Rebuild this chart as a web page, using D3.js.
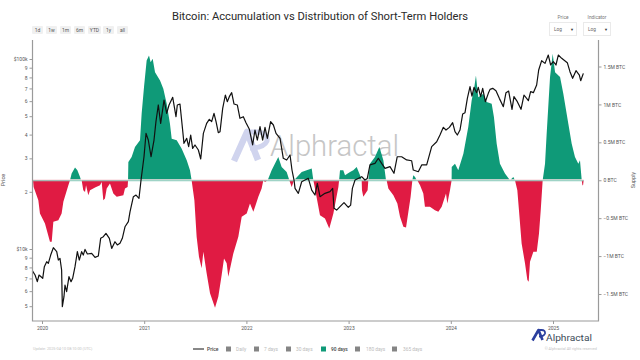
<!DOCTYPE html>
<html><head><meta charset="utf-8">
<script src="https://cdn.jsdelivr.net/npm/d3@7/dist/d3.min.js"></script>
<style>html,body{margin:0;padding:0;background:#fff}svg{display:block;font-family:Roboto,sans-serif}</style>
</head><body><svg id="c" width="640" height="360"></svg>
<script>
const priceYears=[2019.905,2019.932,2019.954,2019.971,2020.007,2020.023,2020.046,2020.062,2020.085,2020.111,2020.144,2020.160,2020.176,2020.192,2020.199,2020.215,2020.225,2020.241,2020.264,2020.284,2020.300,2020.323,2020.346,2020.365,2020.388,2020.404,2020.421,2020.444,2020.486,2020.519,2020.551,2020.574,2020.600,2020.626,2020.659,2020.682,2020.714,2020.737,2020.763,2020.786,2020.812,2020.845,2020.861,2020.894,2020.920,2020.949,2020.969,2020.998,
2021.018,2021.040,2021.067,2021.096,2021.115,2021.138,2021.161,2021.194,2021.220,2021.243,2021.279,2021.311,2021.324,2021.350,2021.376,2021.389,2021.416,2021.435,2021.455,2021.474,2021.497,2021.530,2021.553,2021.579,2021.611,2021.637,2021.660,2021.683,2021.703,2021.725,2021.742,2021.768,2021.794,2021.813,2021.833,2021.856,2021.879,2021.911,2021.937,2021.970,2021.996,2022.029,2022.061,2022.084,2022.107,2022.133,2022.159,2022.182,2022.205,2022.237,2022.264,2022.290,2022.329,2022.361,2022.394,2022.427,2022.446,2022.466,
2022.476,2022.508,2022.541,2022.573,2022.606,2022.639,2022.671,2022.694,2022.720,2022.769,2022.818,2022.844,2022.857,2022.883,2022.916,2022.955,2022.997,2023.020,2023.037,2023.063,2023.128,2023.160,2023.183,2023.209,2023.258,2023.291,2023.323,2023.356,2023.405,2023.444,2023.476,2023.519,2023.568,2023.617,2023.633,2023.682,2023.715,2023.764,2023.813,2023.862,
2023.894,2023.927,2023.953,2023.986,2024.018,2024.041,2024.064,2024.090,2024.116,2024.139,2024.162,2024.188,2024.207,2024.227,2024.253,2024.269,2024.292,2024.312,2024.338,2024.367,2024.384,2024.410,2024.442,2024.475,2024.514,2024.540,2024.566,2024.599,2024.618,2024.651,2024.687,2024.716,2024.759,2024.781,2024.808,2024.840,2024.860,2024.889,2024.922,2024.954,2024.977,2025.003,2025.029,2025.052,2025.085,2025.140,2025.166,2025.192,2025.225,2025.258,2025.271,2025.297];
const priceValues=[7690,7295,6730,7295,7010,8070,8570,8400,9290,10160,9680,8750,8930,7750,4970,5610,6460,5960,7150,6730,7010,8070,9680,8750,9680,9290,9950,9410,9480,9040,9180,11380,11610,12080,11380,10070,10920,10500,10710,11380,13090,13930,15700,18840,19230,18490,23070,30590,
40630,37460,30610,37460,46790,57280,45840,60840,51770,57280,62840,49710,57280,57960,42290,35990,38230,34560,39810,33870,35270,33190,29770,40630,45840,48130,46790,51770,46790,40950,41450,54990,64640,59620,63350,66500,57960,57280,48730,49710,46220,42630,35270,42290,37460,44040,37460,43680,38230,46790,44940,40630,38230,30010,29400,31240,26050,23070,
20840,19630,22600,23070,23540,20420,19230,22150,18840,19630,20040,20840,16370,16030,16710,17540,16560,17020,20840,23070,24020,23070,23530,27700,28220,30020,28220,26580,27130,25040,30590,30590,29420,29140,26040,25500,27700,27700,34560,36690,
39800,43680,42290,43680,46240,41450,39800,42290,51330,52170,62060,71490,63840,70910,66480,70910,63340,70070,59610,65940,69210,70070,68120,62060,56110,66480,67830,54340,63340,59610,54340,64640,60340,67290,66480,72970,87520,97980,94850,104940,92990,96790,92990,104940,100800,95630,85760,79110,86810,82350,76890,84050];
const supplyYears=[2019.905,2019.912,2019.918,2019.964,2019.980,2020.029,2020.078,2020.095,2020.111,2020.160,2020.192,2020.209,2020.258,2020.274,2020.290,2020.323,2020.346,2020.372,2020.382,2020.388,2020.404,2020.421,2020.431,2020.453,2020.470,2020.519,2020.568,2020.584,2020.600,2020.616,2020.633,2020.665,2020.698,2020.731,2020.796,2020.812,2020.838,2020.842,2020.845,2020.877,2020.910,2020.959,2020.975,2020.998,2021.024,2021.047,2021.063,2021.083,2021.106,2021.155,2021.187,2021.220,2021.252,2021.269,2021.318,2021.367,2021.416,2021.448,2021.464,2021.491,2021.513,2021.536,2021.562,2021.579,2021.611,2021.644,2021.693,2021.725,2021.758,2021.781,2021.807,2021.823,2021.872,2021.921,2021.954,2022.003,2022.035,2022.068,2022.117,2022.149,2022.166,2022.182,2022.208,2022.247,2022.312,2022.345,2022.394,2022.420,2022.443,2022.466,2022.541,2022.590,2022.639,2022.655,2022.671,2022.720,2022.769,2022.811,2022.851,2022.900,2022.907,2022.916,2022.948,2022.965,2023.014,2023.046,2023.079,2023.112,2023.128,2023.131,2023.144,2023.186,2023.193,2023.209,2023.258,2023.301,2023.340,2023.366,2023.372,2023.389,2023.438,2023.477,2023.503,2023.536,2023.562,2023.585,2023.607,2023.624,2023.633,2023.650,2023.666,2023.672,2023.699,2023.731,2023.747,2023.796,2023.845,2023.878,2023.911,2023.953,2023.966,2023.992,2024.008,2024.009,2024.041,2024.073,2024.123,2024.171,2024.204,2024.230,2024.246,2024.269,2024.318,2024.351,2024.400,2024.422,2024.449,2024.481,2024.530,2024.579,2024.612,2024.628,2024.651,2024.667,2024.693,2024.726,2024.749,2024.762,2024.775,2024.808,2024.841,2024.863,2024.880,2024.899,2024.922,2024.938,2024.971,2024.997,2025.020,2025.069,2025.101,2025.150,2025.183,2025.215,2025.248,2025.264,2025.281,2025.288,2025.294,2025.300];
const supplyValues=[50,0,-88,-263,-439,-570,-811,-811,-548,-526,-439,-285,-66,0,88,167,132,44,0,0,-132,-154,-66,-197,-132,-96,-66,-22,-263,-241,-110,-44,-175,-219,-197,-110,-88,0,241,307,439,526,877,1228,1579,1645,1557,1601,1425,1316,1206,1009,746,548,526,417,263,132,0,-263,-746,-1009,-1162,-943,-1228,-1491,-1680,-1535,-1250,-1031,-1096,-1272,-965,-746,-482,-439,-307,-417,-219,-110,0,-22,0,132,307,175,110,0,-88,0,110,132,154,0,-110,-461,-504,-636,-439,-88,0,132,132,66,110,132,175,66,0,-132,-219,-132,0,219,307,439,263,0,0,-110,-197,-307,-482,-614,-623,-417,-219,0,66,44,0,0,-66,-175,-351,-351,-395,-417,-351,-175,-307,-132,0,175,219,132,351,702,1053,1228,1382,1096,1140,1031,1009,833,482,219,88,0,44,0,-132,-395,-833,-1096,-1316,-1338,-1075,-943,-943,-702,-395,0,219,614,1360,1667,1425,1360,1140,746,482,307,219,263,0,-66,-66,0];
const yearTicks=[2020,2021,2022,2023,2024,2025];
const priceTicks=[100000,90000,80000,70000,60000,50000,40000,30000,20000,10000,9000,8000,7000,6000,5000];
const priceTickLabels=["$100k","9","8","7","6","5","4","3","2","$10k","9","8","7","6","5"];
const supplyTicks=[1500,1000,500,0,-500,-1000,-1500];
const supplyTickLabels=["1.5M BTC","1M BTC","0.5M BTC","0 BTC","−0.5M BTC","−1M BTC","−1.5M BTC"];
const rangeButtons=["1d","1w","1m","6m","YTD","1y","all"];
const legendNames=["Daily","7 days","30 days","90 days","180 days","365 days"];

const GREEN="#0f9a78",RED="#e01b43",AXIS="#9a9a9a",TXT="#555";
const svg=d3.select("#c");
const L=32.5,R=598.5,T=40,B=321;
const x=d3.scaleLinear().domain([2020,2025]).range([42,553]);
const yP=d3.scaleLog().domain([10000,100000]).range([249,59]);
const yS=d3.scaleLinear().domain([-1500,1500]).range([294,66.5]);
const supply=supplyYears.map((t,i)=>({t,v:supplyValues[i]}));
const price=priceYears.map((t,i)=>({t,v:priceValues[i]}));

// watermark
const wm=svg.append("g").attr("fill","none").attr("stroke","#d0d4ee").attr("stroke-linejoin","round");
wm.append("path").attr("d","M234 161 L247 132 L258 160").attr("stroke-width",6.5);
wm.append("path").attr("d","M247 132 H258 Q268 133 267 141 Q264 148 250 148").attr("stroke-width",5);
svg.append("text").attr("x",270).attr("y",156).attr("font-size",30).attr("font-weight",300).attr("fill","#c6c6c6").attr("textLength",129).attr("lengthAdjust","spacingAndGlyphs").text("Alphractal");

// areas
svg.append("path").datum(supply).attr("fill",GREEN)
 .attr("d",d3.area().x(d=>x(d.t)).y0(yS(0)).y1(d=>yS(Math.max(d.v,0))));
svg.append("path").datum(supply).attr("fill",RED)
 .attr("d",d3.area().x(d=>x(d.t)).y0(yS(0)).y1(d=>yS(Math.min(d.v,0))));
svg.append("rect").attr("x",L).attr("y",yS(0)-1).attr("width",x(2025.3)-L).attr("height",1).attr("fill","#fbe1e5");
svg.append("rect").attr("x",L).attr("y",yS(0)).attr("width",x(2025.3)-L).attr("height",1).attr("fill","#8fcdbe");

// price
svg.append("path").datum(price).attr("fill","none").attr("stroke","#111").attr("stroke-width",1.2).attr("stroke-linejoin","round")
 .attr("d",d3.line().x(d=>x(d.t)).y(d=>yP(d.v)));

// axes
function styleAxis(g){g.selectAll("text").attr("font-size",5).attr("fill",TXT).attr("font-family","Roboto,sans-serif");g.selectAll("line").attr("stroke",AXIS);g.select(".domain").remove();}
svg.append("g").attr("transform",`translate(0,${B})`).call(d3.axisBottom(x).tickValues(yearTicks).tickFormat(d3.format("d")).tickSize(3).tickPadding(2)).call(styleAxis);
svg.append("g").attr("transform",`translate(${L},0)`).call(d3.axisLeft(yP).tickValues(priceTicks).tickFormat((d,i)=>priceTickLabels[i]).tickSize(3).tickPadding(2)).call(styleAxis);
svg.append("g").attr("transform",`translate(${R},0)`).call(d3.axisRight(yS).tickValues(supplyTicks).tickFormat((d,i)=>supplyTickLabels[i]).tickSize(3).tickPadding(2)).call(styleAxis);
svg.append("path").attr("d",`M${L} ${T}V${B}H${R}V${T}`).attr("fill","none").attr("stroke",AXIS).attr("stroke-width",1.2);

// titles
const txt=(s,xx,yy,size,fill,anchor)=>svg.append("text").attr("x",xx).attr("y",yy).attr("font-size",size).attr("fill",fill).attr("text-anchor",anchor||"start").text(s);
txt("Bitcoin: Accumulation vs Distribution of Short-Term Holders",320,20,11.2,"#2a2a2a","middle");
txt("Price",0,0,5.5,TXT,"middle").attr("transform","translate(5,180) rotate(-90)");
txt("Supply",0,0,5.5,TXT,"middle").attr("transform","translate(635,180) rotate(-90)");

// range buttons
const btnX=[32,46,60,74,88,103,117],btnW=[11,11,11,11,13,11,11];
rangeButtons.forEach((b,i)=>{
 svg.append("rect").attr("x",btnX[i]).attr("y",26).attr("width",btnW[i]).attr("height",8).attr("rx",1).attr("fill","#f0f0f0");
 txt(b,btnX[i]+btnW[i]/2,32,5,"#555","middle");
});

// dropdowns
[["Price",549],["Indicator",583]].forEach(([n,bx])=>{
 txt(n,bx+14,19,4.8,"#777","middle");
 svg.append("rect").attr("x",bx+.5).attr("y",22.5).attr("width",27).attr("height",13).attr("fill","#fff").attr("stroke","#eaeaea");
 txt("Log",bx+5,30.5,4.8,"#666");
 txt("▼",bx+21,30.5,4,"#333");
});

// legend
svg.append("line").attr("x1",193).attr("x2",204).attr("y1",349).attr("y2",349).attr("stroke","#111").attr("stroke-width",1);
txt("Price",207,351,5,"#444").attr("font-weight",500);
const legendBoxX=[226,254,286,321,355,392],legendTextX=[236,264,296,331,366,403];
legendNames.forEach((n,i)=>{
 const on=n==="90 days";
 svg.append("rect").attr("x",legendBoxX[i]).attr("y",346.5).attr("width",5).attr("height",5).attr("fill",on?GREEN:"#858585");
 txt(n,legendTextX[i],351,4.8,on?"#444":"#bbb").attr("font-weight",on?500:400);
});

txt("Update: 2025-04-10 08:10:00 (UTC)",33,350,3.8,"#c4c4c4");
txt("© Alphractal All rights reserved",597,350,3.8,"#c4c4c4","end");

// bottom-right logo
const lg=svg.append("g").attr("fill","none").attr("stroke","#2b3f9e").attr("stroke-linejoin","round");
lg.append("path").attr("d","M532.5 340.5 L538.5 330 L542.5 340").attr("stroke-width",2.6);
lg.append("path").attr("d","M538.5 330 H541.5 Q545.5 330 545 333.5 Q544 336.5 539 336.5").attr("stroke-width",1.8);
txt("Alphractal",546,341,9.5,"#3c4b58").attr("textLength",46).attr("lengthAdjust","spacingAndGlyphs");
</script></body></html>
